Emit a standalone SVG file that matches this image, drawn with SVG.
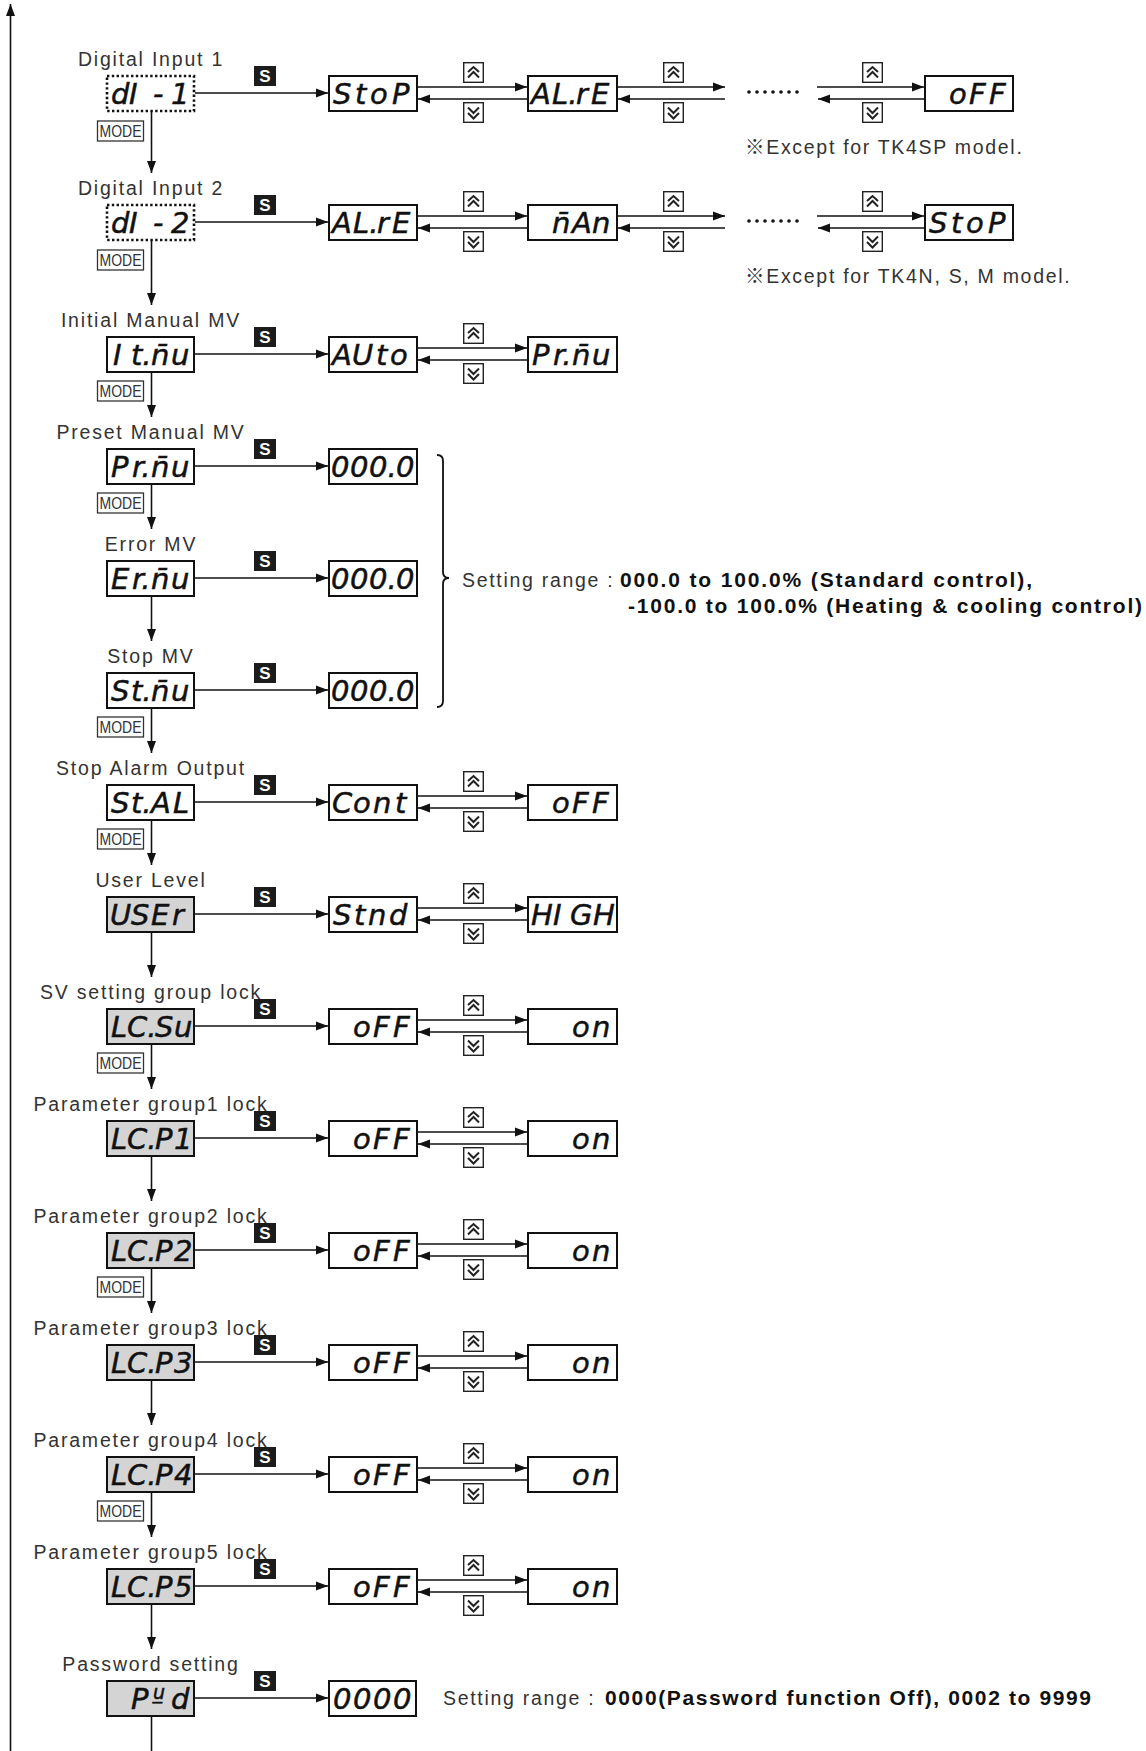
<svg xmlns="http://www.w3.org/2000/svg" width="1146" height="1751" viewBox="0 0 1146 1751">
<style>
.box{fill:#fff;stroke:#111;stroke-width:2}
.gbox{fill:#d4d4d4;stroke:#111;stroke-width:2}
.dbox{fill:#fff;stroke:#111;stroke-width:2.6;stroke-dasharray:2.4 2.4}
.lbl{font-family:"Liberation Sans",Arial,sans-serif;font-size:19.5px;letter-spacing:1.8px;fill:#333;text-anchor:middle}
.note{font-family:"Liberation Sans","Noto Sans CJK KR",Arial,sans-serif;font-size:19.5px;letter-spacing:1.7px;fill:#333}
.rng{font-family:"Liberation Sans",Arial,sans-serif;font-size:19.5px;letter-spacing:1.7px;fill:#333}
.bold{font-family:"Liberation Sans",Arial,sans-serif;font-size:21px;font-weight:bold;fill:#111}
.seg{font-family:"DejaVu Sans",sans-serif;font-style:oblique;font-size:29px;fill:#111;stroke:#111;stroke-width:0.5}
.sb{fill:#1c1c1c}
.st{font-family:"Liberation Sans",Arial,sans-serif;font-weight:bold;font-size:17px;fill:#fff;text-anchor:middle}
.mb{fill:#fff;stroke:#333;stroke-width:1.3}
.mt{font-family:"Liberation Sans",Arial,sans-serif;font-size:17px;fill:#333}
.ln{stroke:#111;stroke-width:1.6;fill:none}
.arr{stroke:#111;stroke-width:1.6;fill:none;marker-end:url(#ah)}
.btn{fill:#fff;stroke:#222;stroke-width:1.4}
.chev{fill:none;stroke:#222;stroke-width:2}
.dot{fill:#111}
</style>
<defs>
<marker id="ah" viewBox="0 0 12 10" refX="12" refY="5" markerWidth="12" markerHeight="10" orient="auto" markerUnits="userSpaceOnUse"><path d="M0,0.5 L12,5 L0,9.5 z" fill="#111"/></marker>
<g id="bu"><rect class="btn" x="0.7" y="0.7" width="19.6" height="19.6"/><path class="chev" d="M5,10 L10.5,5 L16,10 M5,15.5 L10.5,10 L16,15.5"/></g>
<g id="bd"><rect class="btn" x="0.7" y="0.7" width="19.6" height="19.6"/><path class="chev" d="M5,5.5 L10.5,11 L16,5.5 M5,11 L10.5,16.5 L16,11"/></g>
</defs>

<g id="connectors">
<line class="arr" x1="10.5" y1="1751" x2="10.5" y2="4"/>
<line class="arr" x1="151.5" y1="111" x2="151.5" y2="173"/>
<line class="arr" x1="151.5" y1="240" x2="151.5" y2="305"/>
<line class="arr" x1="151.5" y1="372" x2="151.5" y2="417"/>
<line class="arr" x1="151.5" y1="484" x2="151.5" y2="529"/>
<line class="arr" x1="151.5" y1="596" x2="151.5" y2="641"/>
<line class="arr" x1="151.5" y1="708" x2="151.5" y2="753"/>
<line class="arr" x1="151.5" y1="820" x2="151.5" y2="865"/>
<line class="arr" x1="151.5" y1="932" x2="151.5" y2="977"/>
<line class="arr" x1="151.5" y1="1044" x2="151.5" y2="1089"/>
<line class="arr" x1="151.5" y1="1156" x2="151.5" y2="1201"/>
<line class="arr" x1="151.5" y1="1268" x2="151.5" y2="1313"/>
<line class="arr" x1="151.5" y1="1380" x2="151.5" y2="1425"/>
<line class="arr" x1="151.5" y1="1492" x2="151.5" y2="1537"/>
<line class="arr" x1="151.5" y1="1604" x2="151.5" y2="1649"/>
<line class="ln" x1="151.5" y1="1716" x2="151.5" y2="1751"/>
<line class="arr" x1="195" y1="93" x2="328" y2="93"/>
<line class="arr" x1="195" y1="222" x2="328" y2="222"/>
<line class="arr" x1="195" y1="354" x2="328" y2="354"/>
<line class="arr" x1="195" y1="466" x2="328" y2="466"/>
<line class="arr" x1="195" y1="578" x2="328" y2="578"/>
<line class="arr" x1="195" y1="690" x2="328" y2="690"/>
<line class="arr" x1="195" y1="802" x2="328" y2="802"/>
<line class="arr" x1="195" y1="914" x2="328" y2="914"/>
<line class="arr" x1="195" y1="1026" x2="328" y2="1026"/>
<line class="arr" x1="195" y1="1138" x2="328" y2="1138"/>
<line class="arr" x1="195" y1="1250" x2="328" y2="1250"/>
<line class="arr" x1="195" y1="1362" x2="328" y2="1362"/>
<line class="arr" x1="195" y1="1474" x2="328" y2="1474"/>
<line class="arr" x1="195" y1="1586" x2="328" y2="1586"/>
<line class="arr" x1="195" y1="1698" x2="328" y2="1698"/>
<line class="arr" x1="418" y1="87" x2="527" y2="87"/><line class="arr" x1="527" y1="99" x2="418" y2="99"/>
<line class="arr" x1="618" y1="87" x2="725" y2="87"/><line class="arr" x1="725" y1="99" x2="618" y2="99"/>
<line class="arr" x1="817" y1="87" x2="924" y2="87"/><line class="arr" x1="924" y1="99" x2="818" y2="99"/>
<line class="arr" x1="418" y1="216" x2="527" y2="216"/><line class="arr" x1="527" y1="228" x2="418" y2="228"/>
<line class="arr" x1="618" y1="216" x2="725" y2="216"/><line class="arr" x1="725" y1="228" x2="618" y2="228"/>
<line class="arr" x1="817" y1="216" x2="924" y2="216"/><line class="arr" x1="924" y1="228" x2="818" y2="228"/>
<line class="arr" x1="418" y1="348" x2="527" y2="348"/><line class="arr" x1="527" y1="360" x2="418" y2="360"/>
<line class="arr" x1="418" y1="796" x2="527" y2="796"/><line class="arr" x1="527" y1="808" x2="418" y2="808"/>
<line class="arr" x1="418" y1="908" x2="527" y2="908"/><line class="arr" x1="527" y1="920" x2="418" y2="920"/>
<line class="arr" x1="418" y1="1020" x2="527" y2="1020"/><line class="arr" x1="527" y1="1032" x2="418" y2="1032"/>
<line class="arr" x1="418" y1="1132" x2="527" y2="1132"/><line class="arr" x1="527" y1="1144" x2="418" y2="1144"/>
<line class="arr" x1="418" y1="1244" x2="527" y2="1244"/><line class="arr" x1="527" y1="1256" x2="418" y2="1256"/>
<line class="arr" x1="418" y1="1356" x2="527" y2="1356"/><line class="arr" x1="527" y1="1368" x2="418" y2="1368"/>
<line class="arr" x1="418" y1="1468" x2="527" y2="1468"/><line class="arr" x1="527" y1="1480" x2="418" y2="1480"/>
<line class="arr" x1="418" y1="1580" x2="527" y2="1580"/><line class="arr" x1="527" y1="1592" x2="418" y2="1592"/>
<g class="dot">
<circle cx="749" cy="92" r="1.8"/><circle cx="757" cy="92" r="1.8"/><circle cx="765" cy="92" r="1.8"/><circle cx="773" cy="92" r="1.8"/><circle cx="781" cy="92" r="1.8"/><circle cx="789" cy="92" r="1.8"/><circle cx="797" cy="92" r="1.8"/>
<circle cx="749" cy="221" r="1.8"/><circle cx="757" cy="221" r="1.8"/><circle cx="765" cy="221" r="1.8"/><circle cx="773" cy="221" r="1.8"/><circle cx="781" cy="221" r="1.8"/><circle cx="789" cy="221" r="1.8"/><circle cx="797" cy="221" r="1.8"/>
</g>
<path class="ln" style="stroke-width:1.8" d="M437,455 Q443,455 443,461 L443,572 Q443,578 449,578 Q443,578 443,584 L443,701 Q443,707 437,707"/>
<use href="#bu" x="463" y="62"/><use href="#bd" x="463" y="102"/>
<use href="#bu" x="663" y="62"/><use href="#bd" x="663" y="102"/>
<use href="#bu" x="862" y="62"/><use href="#bd" x="862" y="102"/>
<use href="#bu" x="463" y="191"/><use href="#bd" x="463" y="231"/>
<use href="#bu" x="663" y="191"/><use href="#bd" x="663" y="231"/>
<use href="#bu" x="862" y="191"/><use href="#bd" x="862" y="231"/>
<use href="#bu" x="463" y="323"/><use href="#bd" x="463" y="363"/>
<use href="#bu" x="463" y="771"/><use href="#bd" x="463" y="811"/>
<use href="#bu" x="463" y="883"/><use href="#bd" x="463" y="923"/>
<use href="#bu" x="463" y="995"/><use href="#bd" x="463" y="1035"/>
<use href="#bu" x="463" y="1107"/><use href="#bd" x="463" y="1147"/>
<use href="#bu" x="463" y="1219"/><use href="#bd" x="463" y="1259"/>
<use href="#bu" x="463" y="1331"/><use href="#bd" x="463" y="1371"/>
<use href="#bu" x="463" y="1443"/><use href="#bd" x="463" y="1483"/>
<use href="#bu" x="463" y="1555"/><use href="#bd" x="463" y="1595"/>
<g>
<rect class="sb" x="254" y="66" width="22" height="20"/><text class="st" x="265" y="82">S</text>
<rect class="sb" x="254" y="195" width="22" height="20"/><text class="st" x="265" y="211">S</text>
<rect class="sb" x="254" y="327" width="22" height="20"/><text class="st" x="265" y="343">S</text>
<rect class="sb" x="254" y="439" width="22" height="20"/><text class="st" x="265" y="455">S</text>
<rect class="sb" x="254" y="551" width="22" height="20"/><text class="st" x="265" y="567">S</text>
<rect class="sb" x="254" y="663" width="22" height="20"/><text class="st" x="265" y="679">S</text>
<rect class="sb" x="254" y="775" width="22" height="20"/><text class="st" x="265" y="791">S</text>
<rect class="sb" x="254" y="887" width="22" height="20"/><text class="st" x="265" y="903">S</text>
<rect class="sb" x="254" y="999" width="22" height="20"/><text class="st" x="265" y="1015">S</text>
<rect class="sb" x="254" y="1111" width="22" height="20"/><text class="st" x="265" y="1127">S</text>
<rect class="sb" x="254" y="1223" width="22" height="20"/><text class="st" x="265" y="1239">S</text>
<rect class="sb" x="254" y="1335" width="22" height="20"/><text class="st" x="265" y="1351">S</text>
<rect class="sb" x="254" y="1447" width="22" height="20"/><text class="st" x="265" y="1463">S</text>
<rect class="sb" x="254" y="1559" width="22" height="20"/><text class="st" x="265" y="1575">S</text>
<rect class="sb" x="254" y="1671" width="22" height="20"/><text class="st" x="265" y="1687">S</text>
</g>
<g>
<rect class="mb" x="97.5" y="121" width="46" height="20"/><text class="mt" x="99.5" y="137" textLength="42" lengthAdjust="spacingAndGlyphs">MODE</text>
<rect class="mb" x="97.5" y="250" width="46" height="20"/><text class="mt" x="99.5" y="266" textLength="42" lengthAdjust="spacingAndGlyphs">MODE</text>
<rect class="mb" x="97.5" y="381" width="46" height="20"/><text class="mt" x="99.5" y="397" textLength="42" lengthAdjust="spacingAndGlyphs">MODE</text>
<rect class="mb" x="97.5" y="493" width="46" height="20"/><text class="mt" x="99.5" y="509" textLength="42" lengthAdjust="spacingAndGlyphs">MODE</text>
<rect class="mb" x="97.5" y="717" width="46" height="20"/><text class="mt" x="99.5" y="733" textLength="42" lengthAdjust="spacingAndGlyphs">MODE</text>
<rect class="mb" x="97.5" y="829" width="46" height="20"/><text class="mt" x="99.5" y="845" textLength="42" lengthAdjust="spacingAndGlyphs">MODE</text>
<rect class="mb" x="97.5" y="1053" width="46" height="20"/><text class="mt" x="99.5" y="1069" textLength="42" lengthAdjust="spacingAndGlyphs">MODE</text>
<rect class="mb" x="97.5" y="1277" width="46" height="20"/><text class="mt" x="99.5" y="1293" textLength="42" lengthAdjust="spacingAndGlyphs">MODE</text>
<rect class="mb" x="97.5" y="1501" width="46" height="20"/><text class="mt" x="99.5" y="1517" textLength="42" lengthAdjust="spacingAndGlyphs">MODE</text>
</g>
</g>

<g id="di1">
<text class="lbl" x="151" y="66">Digital Input 1</text>
<rect class="dbox" x="107" y="76" width="87" height="35"/>
<text class="seg" y="104"><tspan x="111">d</tspan><tspan x="129">I</tspan><tspan x="153">-</tspan><tspan x="171">1</tspan></text>
</g>
<g id="di1-stop"><rect class="box" x="329" y="76" width="88" height="35"/><text class="seg" y="104"><tspan x="333">S</tspan><tspan x="355">t</tspan><tspan x="370">o</tspan><tspan x="392">P</tspan></text></g>
<g id="di1-alre"><rect class="box" x="528" y="76" width="89" height="35"/><text class="seg" y="104"><tspan x="531">A</tspan><tspan x="552">L.</tspan><tspan x="576">r</tspan><tspan x="591">E</tspan></text></g>
<g id="di1-off"><rect class="box" x="925" y="76" width="88" height="35"/><text class="seg" y="104"><tspan x="949">o</tspan><tspan x="969">F</tspan><tspan x="989">F</tspan></text></g>
<text class="note" x="745" y="154">※Except for TK4SP model.</text>

<g id="di2">
<text class="lbl" x="151" y="195">Digital Input 2</text>
<rect class="dbox" x="107" y="205" width="87" height="35"/>
<text class="seg" y="233"><tspan x="111">d</tspan><tspan x="129">I</tspan><tspan x="153">-</tspan><tspan x="171">2</tspan></text>
</g>
<g id="di2-alre"><rect class="box" x="329" y="205" width="88" height="35"/><text class="seg" y="233"><tspan x="332">A</tspan><tspan x="353">L.</tspan><tspan x="377">r</tspan><tspan x="392">E</tspan></text></g>
<g id="di2-man"><rect class="box" x="528" y="205" width="89" height="35"/><text class="seg" y="233"><tspan x="552">n&#x304;</tspan><tspan x="572">A</tspan><tspan x="592">n</tspan></text></g>
<g id="di2-stop"><rect class="box" x="925" y="205" width="88" height="35"/><text class="seg" y="233"><tspan x="929">S</tspan><tspan x="951">t</tspan><tspan x="966">o</tspan><tspan x="988">P</tspan></text></g>
<text class="note" x="745" y="283">※Except for TK4N, S, M model.</text>

<g id="itmu">
<text class="lbl" x="151" y="327">Initial Manual MV</text>
<rect class="box" x="107" y="337" width="87" height="35"/>
<text class="seg" y="365"><tspan x="113">I</tspan><tspan x="131">t.</tspan><tspan x="151">n&#x304;</tspan><tspan x="171">u</tspan></text>
</g>
<g id="itmu-auto"><rect class="box" x="329" y="337" width="88" height="35"/><text class="seg" y="365"><tspan x="332">A</tspan><tspan x="352">U</tspan><tspan x="376">t</tspan><tspan x="390">o</tspan></text></g>
<g id="itmu-prmu"><rect class="box" x="528" y="337" width="89" height="35"/><text class="seg" y="365"><tspan x="532">P</tspan><tspan x="553">r.</tspan><tspan x="572">n&#x304;</tspan><tspan x="592">u</tspan></text></g>

<g id="prmu">
<text class="lbl" x="151" y="439">Preset Manual MV</text>
<rect class="box" x="107" y="449" width="87" height="35"/>
<text class="seg" y="477"><tspan x="111">P</tspan><tspan x="132">r.</tspan><tspan x="151">n&#x304;</tspan><tspan x="171">u</tspan></text>
</g>
<g id="prmu-val"><rect class="box" x="329" y="449" width="88" height="35"/><text class="seg" y="477"><tspan x="331">0</tspan><tspan x="350">0</tspan><tspan x="369">0.</tspan><tspan x="396">0</tspan></text></g>

<g id="ermu">
<text class="lbl" x="151" y="551">Error MV</text>
<rect class="box" x="107" y="561" width="87" height="35"/>
<text class="seg" y="589"><tspan x="111">E</tspan><tspan x="132">r.</tspan><tspan x="151">n&#x304;</tspan><tspan x="171">u</tspan></text>
</g>
<g id="ermu-val"><rect class="box" x="329" y="561" width="88" height="35"/><text class="seg" y="589"><tspan x="331">0</tspan><tspan x="350">0</tspan><tspan x="369">0.</tspan><tspan x="396">0</tspan></text></g>

<g id="stmu">
<text class="lbl" x="151" y="663">Stop MV</text>
<rect class="box" x="107" y="673" width="87" height="35"/>
<text class="seg" y="701"><tspan x="111">S</tspan><tspan x="131">t.</tspan><tspan x="151">n&#x304;</tspan><tspan x="171">u</tspan></text>
</g>
<g id="stmu-val"><rect class="box" x="329" y="673" width="88" height="35"/><text class="seg" y="701"><tspan x="331">0</tspan><tspan x="350">0</tspan><tspan x="369">0.</tspan><tspan x="396">0</tspan></text></g>

<g id="range-note">
<text class="rng" x="462" y="587">Setting range :</text>
<text class="bold" x="620" y="587" textLength="412">000.0 to 100.0% (Standard control),</text>
<text class="bold" x="628" y="613" textLength="514">-100.0 to 100.0% (Heating &amp; cooling control)</text>
</g>

<g id="stal">
<text class="lbl" x="151" y="775">Stop Alarm Output</text>
<rect class="box" x="107" y="785" width="87" height="35"/>
<text class="seg" y="813"><tspan x="111">S</tspan><tspan x="131">t.</tspan><tspan x="151">A</tspan><tspan x="173">L</tspan></text>
</g>
<g id="stal-cont"><rect class="box" x="329" y="785" width="88" height="35"/><text class="seg" y="813"><tspan x="332">C</tspan><tspan x="353">o</tspan><tspan x="373">n</tspan><tspan x="395">t</tspan></text></g>
<g id="stal-off"><rect class="box" x="528" y="785" width="89" height="35"/><text class="seg" y="813"><tspan x="552">o</tspan><tspan x="572">F</tspan><tspan x="592">F</tspan></text></g>

<g id="user">
<text class="lbl" x="151" y="887">User Level</text>
<rect class="gbox" x="107" y="897" width="87" height="35"/>
<text class="seg" y="925"><tspan x="110">U</tspan><tspan x="131">S</tspan><tspan x="151">E</tspan><tspan x="172">r</tspan></text>
</g>
<g id="user-stnd"><rect class="box" x="329" y="897" width="88" height="35"/><text class="seg" y="925"><tspan x="333">S</tspan><tspan x="354">t</tspan><tspan x="368">n</tspan><tspan x="389">d</tspan></text></g>
<g id="user-high"><rect class="box" x="528" y="897" width="89" height="35"/><text class="seg" y="925"><tspan x="531">H</tspan><tspan x="553">I</tspan><tspan x="570">G</tspan><tspan x="593">H</tspan></text></g>

<g id="lcsu">
<text class="lbl" x="151" y="999">SV setting group lock</text>
<rect class="gbox" x="107" y="1009" width="87" height="35"/>
<text class="seg" y="1037"><tspan x="111">L</tspan><tspan x="127">C.</tspan><tspan x="155">S</tspan><tspan x="174">u</tspan></text>
</g>
<g id="lcsu-off"><rect class="box" x="329" y="1009" width="88" height="35"/><text class="seg" y="1037"><tspan x="353">o</tspan><tspan x="373">F</tspan><tspan x="393">F</tspan></text></g>
<g id="lcsu-on"><rect class="box" x="528" y="1009" width="89" height="35"/><text class="seg" y="1037"><tspan x="572">o</tspan><tspan x="592">n</tspan></text></g>

<g id="lcp1">
<text class="lbl" x="151" y="1111">Parameter group1 lock</text>
<rect class="gbox" x="107" y="1121" width="87" height="35"/>
<text class="seg" y="1149"><tspan x="111">L</tspan><tspan x="127">C.</tspan><tspan x="155">P</tspan><tspan x="174">1</tspan></text>
</g>
<g id="lcp1-off"><rect class="box" x="329" y="1121" width="88" height="35"/><text class="seg" y="1149"><tspan x="353">o</tspan><tspan x="373">F</tspan><tspan x="393">F</tspan></text></g>
<g id="lcp1-on"><rect class="box" x="528" y="1121" width="89" height="35"/><text class="seg" y="1149"><tspan x="572">o</tspan><tspan x="592">n</tspan></text></g>

<g id="lcp2">
<text class="lbl" x="151" y="1223">Parameter group2 lock</text>
<rect class="gbox" x="107" y="1233" width="87" height="35"/>
<text class="seg" y="1261"><tspan x="111">L</tspan><tspan x="127">C.</tspan><tspan x="155">P</tspan><tspan x="174">2</tspan></text>
</g>
<g id="lcp2-off"><rect class="box" x="329" y="1233" width="88" height="35"/><text class="seg" y="1261"><tspan x="353">o</tspan><tspan x="373">F</tspan><tspan x="393">F</tspan></text></g>
<g id="lcp2-on"><rect class="box" x="528" y="1233" width="89" height="35"/><text class="seg" y="1261"><tspan x="572">o</tspan><tspan x="592">n</tspan></text></g>

<g id="lcp3">
<text class="lbl" x="151" y="1335">Parameter group3 lock</text>
<rect class="gbox" x="107" y="1345" width="87" height="35"/>
<text class="seg" y="1373"><tspan x="111">L</tspan><tspan x="127">C.</tspan><tspan x="155">P</tspan><tspan x="174">3</tspan></text>
</g>
<g id="lcp3-off"><rect class="box" x="329" y="1345" width="88" height="35"/><text class="seg" y="1373"><tspan x="353">o</tspan><tspan x="373">F</tspan><tspan x="393">F</tspan></text></g>
<g id="lcp3-on"><rect class="box" x="528" y="1345" width="89" height="35"/><text class="seg" y="1373"><tspan x="572">o</tspan><tspan x="592">n</tspan></text></g>

<g id="lcp4">
<text class="lbl" x="151" y="1447">Parameter group4 lock</text>
<rect class="gbox" x="107" y="1457" width="87" height="35"/>
<text class="seg" y="1485"><tspan x="111">L</tspan><tspan x="127">C.</tspan><tspan x="155">P</tspan><tspan x="174">4</tspan></text>
</g>
<g id="lcp4-off"><rect class="box" x="329" y="1457" width="88" height="35"/><text class="seg" y="1485"><tspan x="353">o</tspan><tspan x="373">F</tspan><tspan x="393">F</tspan></text></g>
<g id="lcp4-on"><rect class="box" x="528" y="1457" width="89" height="35"/><text class="seg" y="1485"><tspan x="572">o</tspan><tspan x="592">n</tspan></text></g>

<g id="lcp5">
<text class="lbl" x="151" y="1559">Parameter group5 lock</text>
<rect class="gbox" x="107" y="1569" width="87" height="35"/>
<text class="seg" y="1597"><tspan x="111">L</tspan><tspan x="127">C.</tspan><tspan x="155">P</tspan><tspan x="174">5</tspan></text>
</g>
<g id="lcp5-off"><rect class="box" x="329" y="1569" width="88" height="35"/><text class="seg" y="1597"><tspan x="353">o</tspan><tspan x="373">F</tspan><tspan x="393">F</tspan></text></g>
<g id="lcp5-on"><rect class="box" x="528" y="1569" width="89" height="35"/><text class="seg" y="1597"><tspan x="572">o</tspan><tspan x="592">n</tspan></text></g>

<g id="pwd">
<text class="lbl" x="151" y="1671">Password setting</text>
<rect class="gbox" x="107" y="1681" width="87" height="35"/>
<text class="seg" y="1709"><tspan x="131">P</tspan><tspan x="153" dy="-10" style="font-size:19px">u&#x332;</tspan><tspan x="171" dy="10">d</tspan></text>
</g>
<g id="pwd-val"><rect class="box" x="329" y="1681" width="87" height="35"/><text class="seg" y="1709"><tspan x="333">0</tspan><tspan x="353">0</tspan><tspan x="373">0</tspan><tspan x="393">0</tspan></text></g>
<g id="pwd-note">
<text class="rng" x="443" y="1705">Setting range :</text>
<text class="bold" x="605" y="1705" textLength="486">0000(Password function Off), 0002 to 9999</text>
</g>
</svg>
